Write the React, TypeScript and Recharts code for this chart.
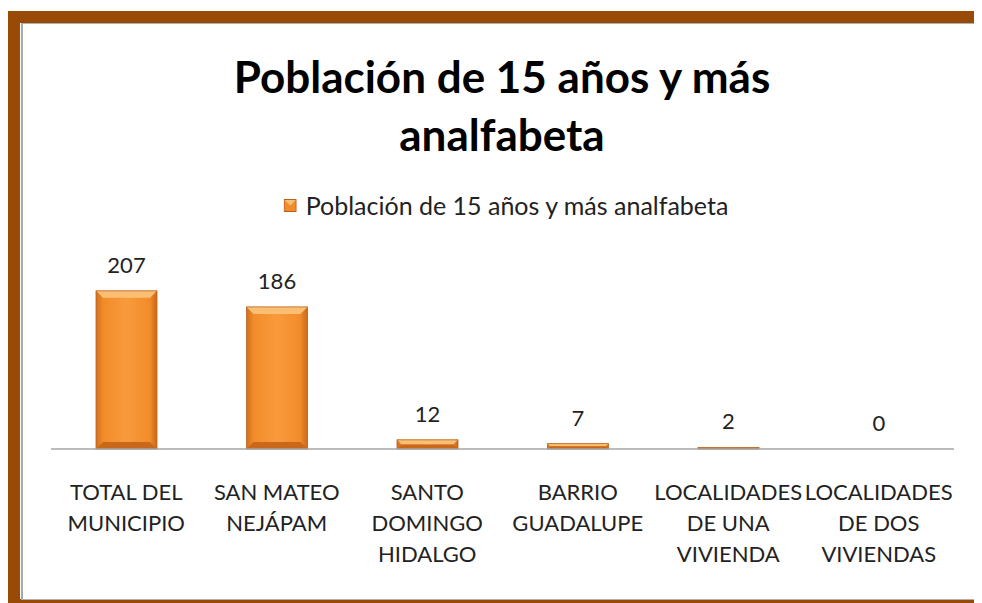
import { BarChart, Bar, XAxis, YAxis, LabelList } from 'recharts'

const categories = [
  'TOTAL DEL\nMUNICIPIO',
  'SAN MATEO\nNEJÁPAM',
  'SANTO\nDOMINGO\nHIDALGO',
  'BARRIO\nGUADALUPE',
  'LOCALIDADES\nDE UNA\nVIVIENDA',
  'LOCALIDADES\nDE DOS\nVIVIENDAS',
]
const values = [207, 186, 12, 7, 2, 0]
const seriesName = 'Población de 15 años y más analfabeta'
const titleLines = ['Población de 15 años y más', 'analfabeta']

const data = categories.map((name, i) => ({ name, value: values[i] }))

const font = 'Lato, "Open Sans", sans-serif'
const brown = '#994A07'

function CategoryTick(props: any) {
  const { x, y, payload } = props
  const lines = String(payload.value).split('\n')
  return (
    <text x={x} y={y + 51} textAnchor="middle" fill="#222" fontSize={22} fontFamily={font}>
      {lines.map((l, i) => (
        <tspan key={i} x={x} dy={i === 0 ? 0 : 31}>{l}</tspan>
      ))}
    </text>
  )
}

function BevelBar(props: any) {
  const { x, y, width, height } = props
  if (!height || height <= 0) return null
  const b = Math.min(7, height / 2)
  return (
    <g>
      <rect x={x} y={y} width={width} height={height} fill="url(#barFill)" />
      <polygon
        points={`${x},${y} ${x + width},${y} ${x + width - b},${y + b} ${x + b},${y + b}`}
        fill="#FBBF74"
      />
      <polygon
        points={`${x},${y + height} ${x + width},${y + height} ${x + width - b},${y + height - b} ${x + b},${y + height - b}`}
        fill="#C9681B"
      />
      <rect x={x} y={y} width={width} height={height} fill="none" stroke="#B8611E" strokeWidth={0.8} />
    </g>
  )
}

export default function App() {
  return (
    <div style={{ position: 'relative', width: 974, height: 595, background: '#fff' }}>
      {/* frame */}
      <div style={{ position: 'absolute', left: 0, top: 3, width: 974, height: 12, background: brown }} />
      <div style={{ position: 'absolute', left: 0, top: 3, width: 12, height: 592, background: brown }} />
      <div style={{ position: 'absolute', left: 0, top: 591, width: 974, height: 4, background: brown }} />
      <div style={{ position: 'absolute', left: 13, top: 15, width: 951, height: 575, borderLeft: '2px solid #A8A8A8', borderTop: '1px solid #B0B0B0', borderRight: '1px solid #B0B0B0', borderBottom: '1px solid #B0B0B0' }} />
      <div
        style={{
          position: 'absolute',
          left: 494,
          top: 39,
          transform: 'translateX(-50%)',
          textAlign: 'center',
          fontFamily: font,
          fontWeight: 'bold',
          fontSize: 44,
          lineHeight: '58px',
          color: '#000',
          whiteSpace: 'nowrap',
        }}
      >
        {titleLines.map((t, i) => (
          <div key={i}>{t}</div>
        ))}
      </div>
      <div
        style={{
          position: 'absolute',
          left: 498,
          top: 182,
          transform: 'translateX(-50%)',
          display: 'flex',
          alignItems: 'center',
          fontFamily: font,
          fontSize: 25,
          color: '#222',
          whiteSpace: 'nowrap',
        }}
      >
        <svg width={13} height={13} style={{ marginRight: 9 }}>
          <rect x={0.5} y={0.5} width={12} height={12} fill="#F28C2A" stroke="#B8611E" />
          <polygon points="1,1 12,1 6.5,6.5" fill="#FBBF74" />
        </svg>
        <span>{seriesName}</span>
      </div>
      <div style={{ position: 'absolute', left: 0, top: 0 }}>
        <BarChart width={974} height={595} data={data} margin={{ top: 250, right: 28, left: 43, bottom: 34 }}>
          <defs>
            <linearGradient id="barFill" x1="0" y1="0" x2="1" y2="0">
              <stop offset="0" stopColor="#D0711F" />
              <stop offset="0.12" stopColor="#F28C2A" />
              <stop offset="0.5" stopColor="#F89A3C" />
              <stop offset="0.88" stopColor="#F28C2A" />
              <stop offset="1" stopColor="#C8691B" />
            </linearGradient>
          </defs>
          <XAxis
            dataKey="name"
            height={120}
            interval={0}
            tickLine={false}
            tickSize={0}
            tickMargin={0}
            axisLine={{ stroke: '#A6A6A6', strokeWidth: 1.5 }}
            tick={<CategoryTick />}
          />
          <YAxis hide domain={[0, 250]} />
          <Bar dataKey="value" name={seriesName} barSize={61} shape={<BevelBar />} isAnimationActive={false}>
            <LabelList dataKey="value" position="top" offset={18} fill="#222" fontSize={22} fontFamily={font} />
          </Bar>
        </BarChart>
      </div>
    </div>
  )
}
